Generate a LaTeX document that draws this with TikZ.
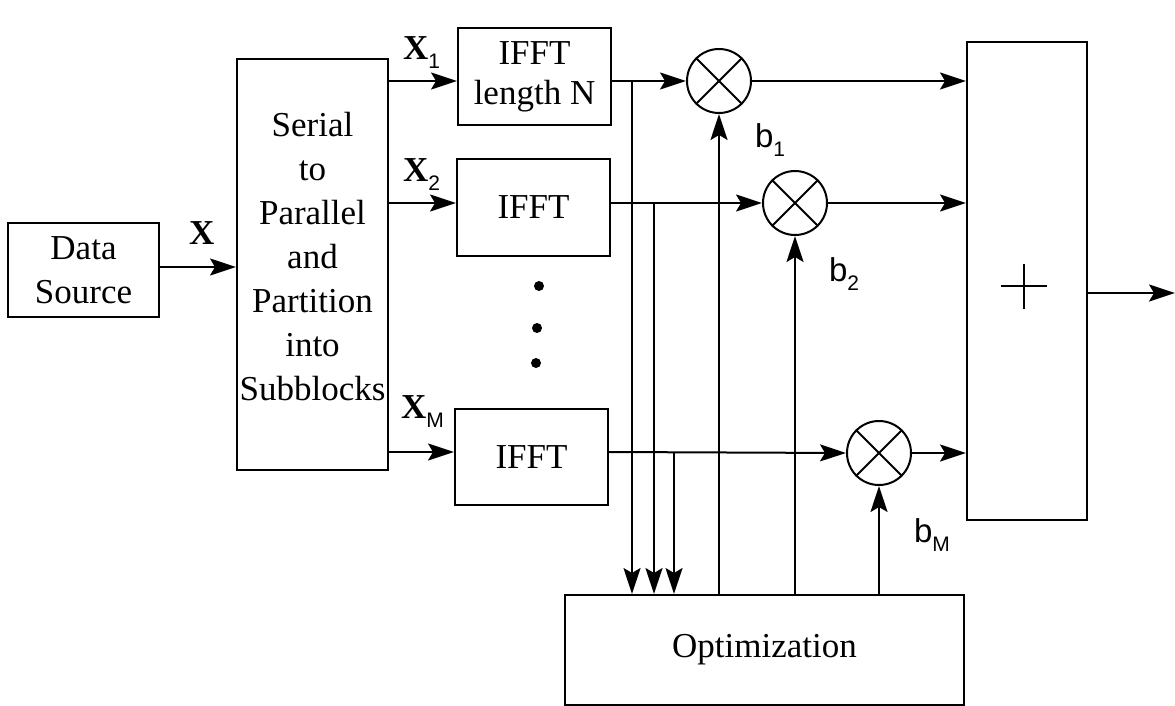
\documentclass[tikz,border=0pt]{standalone}
\usepackage{fontspec}
\setmainfont{Liberation Serif}
\newfontfamily\subfont{Liberation Sans}
\usetikzlibrary{arrows.meta,calc}
% small sans-serif index under a symbol
\newcommand\idx[1]{\raisebox{-9pt}{\fontsize{21}{21}\subfont #1}}
\begin{document}
\begin{tikzpicture}[x=1pt,y=-1pt,line width=2pt,
  box/.style={draw,line width=2pt,align=center,inner sep=0pt,
    font=\fontsize{35}{44}\selectfont},
  mult/.style={draw,circle,minimum size=64pt,inner sep=0pt,line width=2pt},
  arr/.style={-{Stealth[length=26pt,width=17pt,inset=5pt]},line width=2pt},
  lbl/.style={inner sep=0pt,anchor=base west,font=\fontsize{35}{40}\selectfont},
  blbl/.style={inner sep=0pt,anchor=base west,font=\fontsize{33}{36}\subfont}]
\useasboundingbox (0,0) rectangle (1175,706);

% blocks
\node[box,minimum width=151pt,minimum height=94pt] (ds) at (83.5,270) {Data\\Source};
\node[box,minimum width=151pt,minimum height=411pt] (sp) at (312.5,264.5) {};
\node[align=center,inner sep=0pt,font=\fontsize{35}{44}\selectfont] (spt) at (312.5,257)
  {Serial\\to\\Parallel\\and\\Partition\\into\\Subblocks};
\node[box,minimum width=153pt,minimum height=97pt,font=\fontsize{35}{40}\selectfont]
  (f1) at (534.5,77) {IFFT\\length N};
\node[box,minimum width=153pt,minimum height=97pt] (f2) at (533.5,207) {IFFT};
\node[box,minimum width=153pt,minimum height=96pt] (fM) at (531.5,457) {IFFT};
\node[box,minimum width=120pt,minimum height=478pt] (sum) at (1027,281) {};
\node[box,minimum width=399pt,minimum height=110pt] (opt) at (764.5,650) {Optimization};

% multipliers
\node[mult] (m1) at (719,81) {};
\node[mult] (m2) at (795,203) {};
\node[mult] (mM) at (879,453) {};
\foreach \m in {m1,m2,mM}{
  \draw (\m.north east) -- (\m.south west) (\m.north west) -- (\m.south east);
}

% summation sign
\draw[line width=2.5pt] (1001,286) -- (1047,286) (1024,264) -- (1024,309);

% continuation dots
\fill (539,286) circle (5pt) (537,328) circle (5pt) (536,363) circle (5pt);

% signal rows and tap points
\coordinate (r1) at (0,81);
\coordinate (r2) at (0,203);
\coordinate (rM) at (0,452);
\coordinate (t1) at (632,81);
\coordinate (t2) at (654,203);
\coordinate (tM) at (674,452);
\coordinate (out) at (1175,293);

% connectors
\draw[arr] (ds.east |- 0,267) -- (sp.west |- 0,267);
\draw[arr] (sp.east |- r1) -- (f1.west |- r1);
\draw[arr] (sp.east |- r2) -- (f2.west |- r2);
\draw[arr] (sp.east |- rM) -- (fM.west |- rM);
\draw[arr] (f1.east |- r1) -- (m1.west);
\draw[arr] (f2.east |- r2) -- (m2.west);
\draw[arr] (fM.east |- rM) -- (mM.west);
\draw[arr] (t1) -- (t1 |- opt.north);
\draw[arr] (t2) -- (t2 |- opt.north);
\draw[arr] (tM) -- (tM |- opt.north);
\draw[arr] (m1 |- opt.north) -- (m1.south);
\draw[arr] (m2 |- opt.north) -- (m2.south);
\draw[arr] (mM |- opt.north) -- (mM.south);
\draw[arr] (m1.east) -- (sum.west |- m1);
\draw[arr] (m2.east) -- (sum.west |- m2);
\draw[arr] (mM.east) -- (sum.west |- mM);
\draw[arr] (sum.east |- out) -- (out);

% labels
\node[lbl] (lx) at (188,244) {\textbf{X}};
\node[lbl] (lx1) at (402,60) {\textbf{X}\idx{1}};
\node[lbl] (lx2) at (402,182) {\textbf{X}\idx{2}};
\node[lbl] (lxm) at (400,418) {\textbf{X}\idx{M}};
\node[blbl] (lb1) at (754,148) {b\idx{1}};
\node[blbl] (lb2) at (828,281) {b\idx{2}};
\node[blbl] (lbm) at (913,542) {b\idx{M}};
\end{tikzpicture}
\end{document}
